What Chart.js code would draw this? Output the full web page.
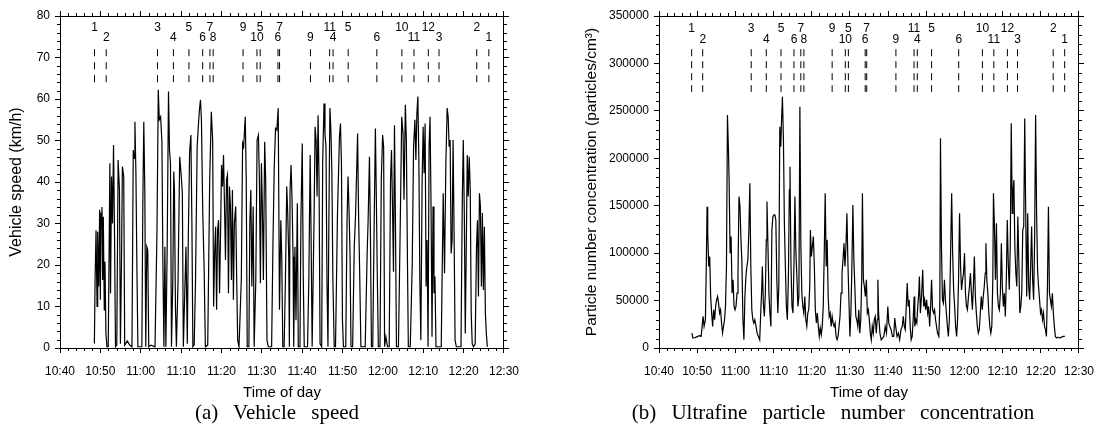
<!DOCTYPE html>
<html><head><meta charset="utf-8">
<script src="https://cdn.jsdelivr.net/npm/chart.js@4/dist/chart.umd.min.js"></script>
<style>
html,body{margin:0;padding:0;background:#fff;width:1105px;height:440px;overflow:hidden;position:relative}
canvas{position:absolute;top:0}
#ca{left:0}
#cb{left:560px}
.cap{position:absolute;font-family:'Liberation Serif','Times New Roman',serif;font-size:21px;line-height:24px;word-spacing:10px;color:#000;white-space:nowrap;transform:translateX(-50%);top:400px}
</style></head><body>
<canvas id="ca" width="530" height="404"></canvas>
<canvas id="cb" width="545" height="404"></canvas>
<div class="cap" style="left:277px">(a) Vehicle speed</div>
<div class="cap" style="left:833px">(b) Ultrafine particle number concentration</div>
<script>
// x values: minutes after 10:40
const timeTickLabels = ['10:40','10:50','11:00','11:10','11:20','11:30','11:40','11:50','12:00','12:10','12:20','12:30'];

const speedTimes = [
8.52,8.69,8.93,9.18,9.34,9.59,9.83,10.0,10.16,10.4,
10.56,10.73,10.97,11.14,11.38,11.63,11.95,12.36,12.52,12.77,
13.01,13.26,13.5,13.75,14.07,14.4,14.73,14.97,15.22,15.46,
15.79,16.03,16.68,17.26,17.83,18.15,18.4,18.56,18.81,19.05,
19.3,20.28,20.52,20.76,21.01,21.25,21.5,21.74,21.99,22.56,
23.54,24.03,24.35,24.6,24.93,25.25,25.5,25.74,25.99,26.23,
26.56,26.88,27.13,27.37,27.62,27.95,28.19,28.35,28.6,28.84,
29.25,29.66,29.99,30.31,30.56,31.21,31.54,31.78,32.11,32.43,
32.68,32.92,33.25,33.58,33.98,34.31,34.55,34.8,35.04,35.37,
35.7,36.02,36.6,37.09,37.49,37.82,38.06,38.31,38.55,38.8,
39.04,39.29,39.53,39.78,40.02,40.27,40.51,40.76,41.0,41.25,
41.49,41.74,41.98,42.23,42.47,42.72,42.96,43.2,43.53,43.78,
44.02,44.35,44.92,45.24,45.49,45.9,46.14,46.39,46.8,47.04,
47.28,47.53,47.86,48.1,48.51,48.83,49.16,49.41,49.65,49.9,
50.14,50.39,50.71,50.96,51.28,51.61,52.43,52.75,53.08,53.4,
53.73,54.06,54.38,54.71,54.95,55.2,55.53,55.85,56.18,56.42,
56.67,56.83,57.0,57.25,57.49,57.74,57.9,58.2,58.47,58.8,
59.04,59.45,59.69,60.02,60.27,60.51,61.33,61.65,61.98,62.22,
62.47,62.96,63.2,63.45,63.69,63.94,64.18,64.43,64.83,65.08,
65.41,65.65,65.9,66.14,66.39,66.63,66.87,67.12,67.36,67.61,
67.94,68.26,68.75,69.24,69.49,69.73,69.98,70.22,70.79,71.12,
71.36,71.61,71.85,72.1,72.5,72.91,73.24,73.73,73.97,74.22,
74.55,75.61,76.1,76.34,76.67,76.91,77.16,77.48,77.81,78.14,
78.38,78.63,78.87,79.28,79.6,79.93,80.18,80.42,80.75,81.15,
81.56,81.89,82.13,82.38,82.62,82.87,83.11,83.36,83.85,84.34,
84.66,84.99,85.23,85.56,85.81,86.05,86.3,86.78,87.27,87.6,
87.93,88.17,88.42,88.66,88.91,89.15,89.4,89.72,89.97,90.21,
90.46,90.7,90.95,91.19,91.44,91.68,91.93,92.17,92.42,92.66,
92.9,93.15,94.45,94.94,95.27,95.6,95.92,96.17,96.41,96.66,
96.9,97.15,97.39,97.64,97.88,98.2,99.35,99.68,99.92,100.17,
100.41,100.66,100.9,101.15,101.39,101.64,101.88,102.13,102.45,102.86,
103.19,103.43,103.67,103.92,104.16,104.41,104.65,104.9,105.14,105.39,
105.63,105.88];

const speedValues = [
1.1,16.4,28.4,10,28,14.8,33.3,11.6,32.5,34,
16.4,31.6,9.2,20.8,3.5,0.3,0.3,44.5,13.2,41.3,
30,48.9,28.4,0.3,0.7,45.3,38.1,1,19.6,43.7,
41.3,0.7,1.7,0.7,0.3,47.7,45.7,54.5,42.1,19.6,
0.3,0.3,34.9,54.5,38.1,0.3,24.4,23.6,0.3,0.7,
0.3,28.4,62.2,55,55.7,49.7,19.6,0.3,24.4,0.3,
24.4,61.8,47.7,44.5,0.3,16.4,42.5,38.1,10,0.3,
16.4,46.1,42.1,37.3,0.3,24.4,1,26,47.3,51.3,
30,0.3,0.7,16.4,48.5,54.1,57.4,59.8,55,32.5,
19.6,0.3,0.7,40.5,56.9,50.1,10,22.8,29.2,9.2,
28.4,30.8,13.2,27.6,44.1,38.9,46.5,34.1,21.2,40.5,
41.7,13.2,38.9,34.1,16.4,38.1,11.6,30,34.1,16.4,
1.9,0.3,16.4,49.3,48.5,55.7,40.5,0.3,0.3,30.8,
38.1,14.8,34.1,0.3,16.4,50.1,51.3,40.5,15.6,44.5,
34.1,16.4,49.7,40.5,1.9,0.3,0.3,24.4,43.7,52.9,
52.5,57.8,9.2,30.8,21.2,0.3,0.3,16.4,38.9,32.5,
22,0.3,38.1,44.1,35.7,22,0.3,24.4,6.7,34.9,
0.3,0.3,30.8,49.3,17.2,0.3,0.3,16.4,46.5,26,
0.3,32.5,53.3,50.1,36.5,56.1,40.5,1,0.3,44.5,
58.9,51.7,48.5,16.4,0.3,32.5,57.8,52.5,42.1,16.4,
0.3,0.3,32.5,50.9,54.1,44.5,6.7,0.3,0.3,30.8,
41.3,33.3,22.8,0.3,0.3,24.4,32.5,51.7,32.5,19.6,
0.3,0.3,22.8,30.8,46.1,27.6,0.3,0.3,27.6,52.9,
35.7,16.4,0.3,0.3,40.5,51.3,48.5,0.3,2.7,0.3,
0.3,40.5,47.7,34.1,18.4,53.7,30,0.3,0.3,32.5,
55.7,51.7,35.7,58.6,50.1,24.4,0.3,0.3,20.4,48.5,
55,45.3,56.5,60.6,45.3,16.4,1.9,40.5,53.3,42.1,
54.1,14.8,26,0.3,48.5,55.7,34.1,2.7,34.1,13.2,
17.2,0.3,0.3,37.3,18,44.5,57.8,55.7,48.5,50.1,
22.8,26,50.1,27.6,1.9,0.3,0.3,36.5,50.1,32.5,
3.5,24.4,46.5,36.5,46.1,38.1,8.4,1,0.3,1,
24.4,30.8,12.4,37.3,34.1,14.8,32.5,14,29.2,8.4,
3.5,0.3];

const pncTimes = [
8.62,8.88,9.31,9.74,10.17,10.6,11.04,11.29,11.55,11.81,
12.16,12.41,12.59,12.76,13.02,13.28,13.53,13.79,14.05,14.31,
14.57,14.83,15.09,15.35,15.6,15.86,16.12,16.38,16.64,16.9,
17.16,17.41,17.67,17.93,18.19,18.36,18.62,18.88,19.14,19.4,
19.66,19.91,20.17,20.43,20.69,20.95,21.21,21.47,21.72,21.98,
22.24,22.5,22.76,23.02,23.28,23.54,23.79,24.05,24.31,24.57,
24.83,25.09,25.43,25.69,26.04,26.38,26.64,26.9,27.07,27.33,
27.59,27.85,28.1,28.28,28.54,28.79,29.05,29.31,29.57,29.83,
30.09,30.35,30.6,30.86,31.12,31.38,31.64,31.9,32.07,32.33,
32.59,32.84,33.1,33.36,33.62,33.88,34.14,34.31,34.57,34.83,
35.09,35.35,35.6,35.86,36.12,36.38,36.64,36.9,37.16,37.41,
37.67,37.93,38.19,38.45,38.71,38.97,39.22,39.48,39.66,39.91,
40.17,40.43,40.69,40.95,41.21,41.47,41.73,41.98,42.24,42.5,
42.76,43.02,43.28,43.53,43.79,44.05,44.31,44.57,44.83,45.09,
45.35,45.6,45.86,46.12,46.38,46.64,46.9,47.16,47.41,47.67,
47.93,48.19,48.45,48.71,48.97,49.22,49.48,49.74,50.0,50.26,
50.52,50.78,51.04,51.29,51.55,51.81,52.07,52.33,52.59,52.85,
53.1,53.28,53.53,53.79,54.05,54.31,54.57,54.83,55.09,55.34,
55.6,55.86,56.12,56.38,56.64,56.9,57.16,57.33,57.51,57.86,
58.2,58.55,58.89,59.24,59.58,59.93,60.19,60.45,60.79,61.14,
61.48,61.74,61.99,62.34,62.69,63.03,63.38,63.72,63.98,64.24,
64.5,64.76,65.01,65.27,65.53,65.79,66.05,66.31,66.57,66.83,
67.0,67.26,67.52,67.77,68.03,68.2,68.46,68.81,69.07,69.33,
69.58,69.84,70.1,70.36,70.62,70.88,71.14,71.39,71.65,71.91,
72.17,72.43,72.69,72.95,73.29,73.55,73.72,73.98,74.24,74.5,
74.76,75.01,75.27,75.53,75.79,76.05,76.31,76.65,76.91,77.17,
77.43,77.69,77.95,78.2,78.46,78.72,78.98,79.24,79.5,79.76,
80.02,80.27,80.53,80.79,81.05,81.31,81.57,81.83,82.08,82.34,
82.6,82.86,83.12,83.38,83.63,83.89,84.15,84.41,84.67,84.93,
85.19,85.44,85.62,85.87,86.13,86.39,86.65,86.91,87.17,87.43,
87.6,87.86,88.12,88.38,88.64,88.89,89.15,89.41,89.67,89.93,
90.19,90.45,90.71,90.97,91.22,91.48,91.74,92.0,92.26,92.52,
92.69,92.95,93.2,93.46,93.72,93.98,94.24,94.5,94.76,95.01,
95.27,95.53,95.79,96.05,96.31,96.57,96.83,97.09,97.34,97.6,
97.86,98.12,98.38,98.64,98.9,99.15,99.41,99.67,99.93,100.19,
100.45,100.71,100.97,101.22,101.48,101.74,102.0,102.26,102.51,102.77,
103.03,103.29,103.55,103.81,104.15,104.58,105.01,105.45,105.88,106.3];

const pncValues = [
15700,10500,10800,11500,12200,12900,12200,22800,33300,22800,
29800,92900,149000,121000,86000,96400,54300,36800,22800,40300,
29800,43800,50800,54300,47300,36800,40300,26300,15700,22800,
29800,43800,86000,245600,208700,177100,100000,117500,57800,71900,
43800,40300,43800,57800,78900,159600,149000,114000,89400,29800,
8700,54300,75400,86000,92900,124500,173600,86000,40300,29800,
26300,29800,22800,15700,12200,8700,36800,61300,86000,47300,
33300,57800,114000,154300,107000,57800,36800,22800,124500,138500,
140300,140300,135000,71900,36800,64900,233300,212200,236800,264900,
219200,131500,86000,43800,29800,71900,166600,191200,86000,43800,
36800,89400,159600,100000,75400,43800,54300,254300,107000,57800,
43800,36800,54300,29800,22800,36800,40300,64900,124500,96400,
107000,117500,86000,40300,26300,36800,22800,12200,21000,14000,
22800,43800,100000,163100,86000,114000,54300,33300,36800,22800,
33300,26300,22800,26300,12200,8700,12200,22800,33300,57800,
78900,92900,110500,86000,107000,142000,89400,50800,12200,36800,
86000,150800,92900,64900,33300,29800,22800,40300,15700,29800,
75400,163100,71900,64900,54300,71900,36800,40300,29800,15700,
8700,22800,15700,29800,33300,15700,29800,71900,36800,15700,
8700,10500,12200,22800,15700,43800,26300,22800,19300,12200,
12200,31500,22800,12200,15700,8700,19300,22800,33300,22800,
19300,43800,68400,43800,50800,22800,8700,12200,29800,54300,
22800,29800,26300,43800,57800,75400,36800,57800,82400,43800,
50800,40300,50800,36800,43800,22800,43800,71900,40300,36800,
40300,29800,22800,15700,12200,43800,221000,107000,50800,47300,
71900,50800,36800,22800,12200,29800,86000,163100,100000,61300,
43800,22800,12200,29800,71900,142000,86000,61300,71900,78900,
100000,57800,43800,40300,54300,64900,78900,57800,40300,64900,
96400,54300,36800,22800,15700,19300,36800,54300,40300,54300,
64900,78900,110500,71900,57800,36800,22800,15700,22800,71900,
163100,128000,71900,131500,57800,43800,40300,57800,110500,64900,
43800,57800,33300,71900,135000,89400,61300,107000,236800,142000,
163100,177100,107000,78900,64900,138500,92900,36800,43800,57800,
124500,128000,242000,142000,54300,142000,64900,50800,86000,128000,
71900,50800,114000,245600,142000,82400,64900,50800,36800,40300,
29800,36800,22800,19300,12200,64900,149000,57800,50800,43800,
57800,36800,22800,12200,10500,11500,10500,11500,12200,12200];

const eventTimes = [8.55,11.45,24.15,28.1,31.95,35.35,37.15,37.95,45.35,48.8,49.6,54.0,54.4,62.05,66.8,67.65,71.4,78.5,84.7,87.7,91.25,93.9,103.25,106.25];
const eventLabels = ['1','2','3','4','5','6','7','8','9','10','5','6','7','9','11','4','5','6','10','11','12','3','2','1'];

const SANS = "'Liberation Sans', Arial, sans-serif";
Chart.defaults.font.family = SANS;
Chart.defaults.color = '#000';

const minorTicks = {
  id: 'minorTicks',
  afterDraw(chart, args, o) {
    const ctx = chart.ctx, a = chart.chartArea, xs = chart.scales.x, ys = chart.scales.y;
    ctx.save();
    ctx.strokeStyle = '#000'; ctx.lineWidth = 1;
    ctx.beginPath();
    for (let v = o.xMin; v <= o.xMax; v += o.xStep) {
      if (v % o.xMajor === 0) continue;
      const p = Math.round(xs.getPixelForValue(v)) + 0.5;
      ctx.moveTo(p, a.bottom); ctx.lineTo(p, a.bottom + 3);
      ctx.moveTo(p, a.top); ctx.lineTo(p, a.top - 3);
    }
    for (let v = o.yMin; v <= o.yMax; v += o.yStep) {
      if (v % o.yMajor === 0) continue;
      const p = Math.round(ys.getPixelForValue(v)) + 0.5;
      ctx.moveTo(a.left, p); ctx.lineTo(a.left - 3, p);
      ctx.moveTo(a.right, p); ctx.lineTo(a.right + 3, p);
    }
    ctx.stroke();
    ctx.restore();
  }
};

const eventText = {
  id: 'eventText',
  afterDatasetsDraw(chart, args, o) {
    const ctx = chart.ctx, xs = chart.scales.x, ys = chart.scales.y;
    ctx.save();
    ctx.font = '12px ' + SANS;
    ctx.fillStyle = '#000';
    ctx.textAlign = 'center';
    ctx.textBaseline = 'middle';
    eventTimes.forEach((t, i) => {
      const lvl = i % 2 === 0 ? o.upper : o.lower;
      ctx.fillText(eventLabels[i], xs.getPixelForValue(t), ys.getPixelForValue(lvl));
    });
    ctx.restore();
  }
};

function timeLabel(v) { return v % 10 === 0 ? timeTickLabels[Math.round(v / 10)] : ''; }

function build(id, cfg) {
  const series = cfg.times.map((t, i) => ({ x: t, y: cfg.values[i] }));
  const datasets = [{
    data: series, borderColor: '#000', borderWidth: 1.2, pointRadius: 0, tension: 0, fill: false
  }];
  eventTimes.forEach(t => {
    datasets.push({
      data: [{ x: t, y: cfg.markTop }, { x: t, y: cfg.markBottom }],
      borderColor: '#000', borderWidth: 1, borderDash: cfg.dash, pointRadius: 0, fill: false
    });
  });
  const gridOpts = { drawOnChartArea: false, color: '#000', tickLength: 5, tickColor: '#000' };
  const borderOpts = { color: '#000', width: 1 };
  new Chart(document.getElementById(id), {
    type: 'line',
    data: { datasets },
    options: {
      responsive: false, animation: false, events: [],
      layout: { padding: 0 },
      plugins: {
        legend: { display: false }, tooltip: { enabled: false },
        minorTicks: { xMin: 0, xMax: 110, xStep: 2, xMajor: 10, yMin: 0, yMax: cfg.yMax, yStep: cfg.yMinor, yMajor: cfg.yStep },
        eventText: { upper: cfg.labUpper, lower: cfg.labLower }
      },
      scales: {
        x: {
          type: 'linear', position: 'bottom', min: 0, max: 110,
          ticks: { stepSize: 10, autoSkip: false, maxRotation: 0, padding: 11, font: { size: 12 }, color: '#000', callback: timeLabel },
          grid: gridOpts, border: borderOpts,
          title: { display: true, text: 'Time of day', font: { size: 15 }, color: '#000', padding: { top: 0, bottom: 2 } },
          afterFit: s => { s.height = 56; }
        },
        x2: {
          type: 'linear', position: 'top', min: 0, max: 110,
          ticks: { stepSize: 10, display: false },
          grid: gridOpts, border: borderOpts,
          afterFit: s => { s.height = 16; }
        },
        y: {
          type: 'linear', position: 'left', min: 0, max: cfg.yMax,
          ticks: { stepSize: cfg.yStep, padding: 5, font: { size: 12 }, color: '#000', callback: v => String(v) },
          grid: gridOpts, border: borderOpts,
          title: { display: true, text: cfg.yTitle, font: { size: cfg.titleSize }, color: '#000', padding: { top: cfg.titlePad, bottom: 0 } },
          afterFit: s => { s.width = cfg.yWidth; }
        },
        y2: {
          type: 'linear', position: 'right', min: 0, max: cfg.yMax,
          ticks: { stepSize: cfg.yStep, display: false },
          grid: gridOpts, border: borderOpts,
          afterFit: s => { s.width = 21; }
        }
      }
    },
    plugins: [minorTicks, eventText]
  });
}

build('ca', {
  times: speedTimes, values: speedValues,
  yMax: 80, yStep: 10, yMinor: 2, yTitle: 'Vehicle speed (km/h)', yWidth: 60, titlePad: 7, titleSize: 16,
  markTop: 72, markBottom: 64, dash: [7, 6], labUpper: 77.3, labLower: 74.7
});
build('cb', {
  times: pncTimes, values: pncValues,
  yMax: 350000, yStep: 50000, yMinor: 10000, yTitle: 'Particle number concentration (particles/cm\u00B3)', yWidth: 99, titlePad: 22, titleSize: 15.5,
  markTop: 315000, markBottom: 270000, dash: [7, 5], labUpper: 337000, labLower: 325500
});
</script>
</body></html>
